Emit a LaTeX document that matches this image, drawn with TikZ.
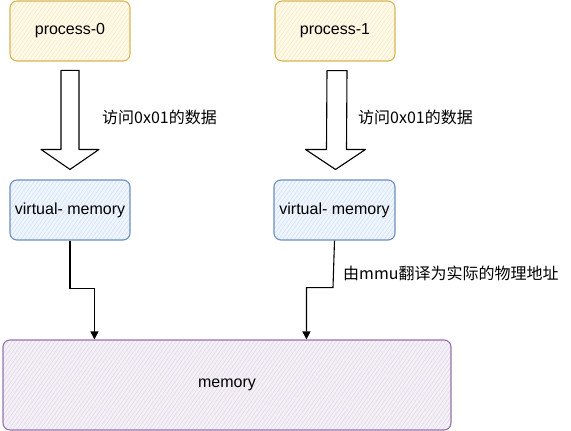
\documentclass[tikz,border=0pt]{standalone}
\usepackage{fontspec}
\setmainfont{Liberation Sans}
\newfontfamily\cjk{Noto Sans CJK SC}
\usetikzlibrary{calc,arrows.meta,patterns.meta}
\definecolor{ystroke}{HTML}{D6B656}
\definecolor{yfill}{HTML}{FFF2CC}
\definecolor{bstroke}{HTML}{6C8EBF}
\definecolor{bfill}{HTML}{DAE8FC}
\definecolor{pstroke}{HTML}{9673A6}
\definecolor{pfill}{HTML}{E1D5E7}
\tikzset{
  sketchbox/.style={rounded corners=7pt, line width=1.1pt, font=\fontsize{16}{19}\selectfont,
    inner sep=0pt, align=center},
  ybox/.style={sketchbox, draw=ystroke, preaction={fill=yfill!45},
    pattern={Lines[angle=55,distance=3.2pt,line width=0.6pt]}, pattern color=yfill!75!ystroke!70},
  bbox/.style={sketchbox, draw=bstroke, preaction={fill=bfill!45},
    pattern={Lines[angle=55,distance=3.2pt,line width=0.6pt]}, pattern color=bfill!80!bstroke!70},
  pbox/.style={sketchbox, draw=pstroke, preaction={fill=pfill!35},
    pattern={Lines[angle=55,distance=3.2pt,line width=0.6pt]}, pattern color=pfill!80!pstroke!60},
  bigarrow/.style={draw=black, fill=white, line width=1.1pt, line join=round},
  conn/.style={draw=black, line width=1.1pt, -{Triangle[width=8pt,length=8pt]}},
  lbl/.style={font=\cjk\fontsize{16}{19}\selectfont, anchor=west, inner sep=0pt}
}
\begin{document}
\begin{tikzpicture}[x=1pt,y=-1pt]
\useasboundingbox (0,0) rectangle (571,431);
% boxes
\node[ybox, minimum width=120pt, minimum height=60pt] (p0) at (70,31) {process-0};
\node[ybox, minimum width=120pt, minimum height=60pt] (p1) at (335,31) {process-1};
\node[bbox, minimum width=120pt, minimum height=60pt] (v0) at (70,210) {virtual- memory};
\node[bbox, minimum width=121pt, minimum height=60pt] (v1) at (334.5,210) {virtual- memory};
\node[pbox, minimum width=448pt, minimum height=90pt] (mem) at (227,385) {memory};
% big arrows
\coordinate (a0s) at ($(p0.south)+(0,9)$);
\coordinate (a0t) at ($(v0.north)+(0,-10)$);
\draw[bigarrow] ($(a0s)+(-9,0)$) -- ($(a0s)+(9,0)$) -- ($(a0t)+(9,-20)$) -- ($(a0t)+(29,-20)$)
  -- (a0t) -- ($(a0t)+(-29,-20)$) -- ($(a0t)+(-9,-20)$) -- cycle;
\coordinate (a1s) at ($(p1.south)+(2,9)$);
\coordinate (a1t) at ($(v1.north)+(1,-10)$);
\draw[bigarrow] ($(a1s)+(-10,0)$) -- ($(a1s)+(10,0)$) -- ($(a1t)+(11,-20)$) -- ($(a1t)+(30,-20)$)
  -- (a1t) -- ($(a1t)+(-30,-20)$) -- ($(a1t)+(-9,-20)$) -- cycle;
% labels
\node[lbl] (l0) at (102,117) {访问0x01的数据};
\node[lbl] (l1) at (358,117) {访问0x01的数据};
\node[lbl] (l2) at (343,273) {由mmu翻译为实际的物理地址};
% connectors
\coordinate (m0) at ($(mem.north west)+(92,0)$);
\coordinate (m1) at ($(mem.north west)+(304,0)$);
\draw[conn] (v0.south) -- ($(v0.south)+(0,48)$) -| (m0);
\draw[conn] (v1.south) -- ($(v1.south)+(-1.5,47)$) -| (m1);
\end{tikzpicture}
\end{document}
